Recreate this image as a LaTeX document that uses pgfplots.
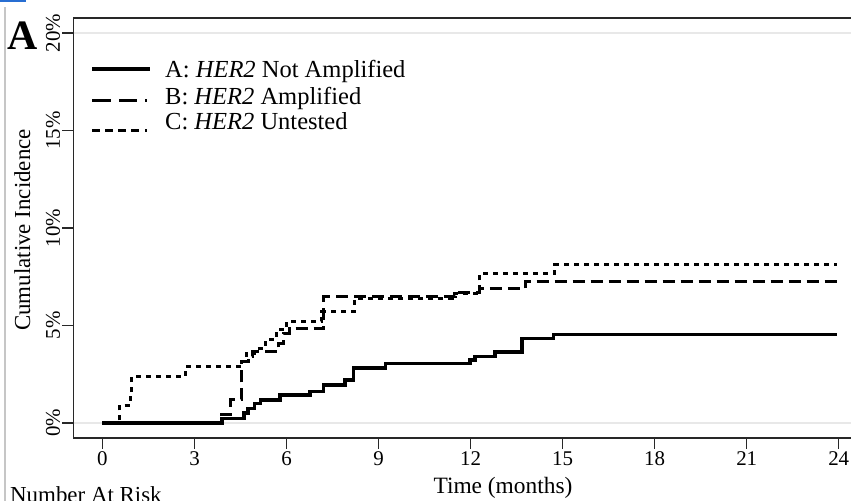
\documentclass[border=0pt]{standalone}
\usepackage{fontspec}
\setmainfont{Liberation Serif}
\usepackage{pgfplots}
\pgfplotsset{compat=1.18}
\definecolor{gridgray}{RGB}{232,232,232}
\definecolor{framegray}{RGB}{40,40,40}
\definecolor{winblue}{RGB}{40,110,210}

\begin{document}
\begin{tikzpicture}[x=1bp,y=1bp]
\begin{axis}[
  at={(73.3bp,63bp)}, anchor=south west,
  scale only axis, width=777.7bp, height=420bp,
  xmin=-0.95, xmax=24.4, ymin=-0.77, ymax=20.77,
  axis line style={draw=none},
  tick pos=left, tick align=outside,
  major tick length=11bp,
  tick style={framegray, line width=1.2bp},
  xtick={0,3,...,24},
  xticklabels={0,3,6,9,12,15,18,21,24},
  ytick={0,5,10,15,20},
  yticklabels={0\%,5\%,10\%,15\%,20\%},
  xticklabel style={font=\fontsize{21}{21}\selectfont, anchor=north, inner sep=2bp},
  yticklabel style={font=\fontsize{21}{21}\selectfont, rotate=90, anchor=south, inner sep=2bp},
  clip=false,
]
% light reference lines at 0% and 20%
\draw[gridgray, line width=2bp] (axis cs:-0.95,0) -- (axis cs:24.4,0);
\draw[gridgray, line width=2bp] (axis cs:-0.95,20) -- (axis cs:24.4,20);
% plot region border (right side falls outside the picture)
\draw[framegray, line width=1.5bp] (rel axis cs:1,1) -- (rel axis cs:0,1) -- (rel axis cs:0,0) -- (rel axis cs:1,0);

% C: HER2 untested
\addplot[const plot, black, line width=3bp, dash pattern=on 5bp off 5bp] coordinates {
  (0,0) (0.57,0.92) (0.9,1.44) (0.95,2.37) (2.7,2.89) (4.48,3.14) (4.7,3.57)
  (4.95,3.83) (5.3,4.26) (5.68,4.77) (6.0,5.19) (7.15,5.71) (8.2,6.39)
  (11.4,6.65) (12.3,7.66) (14.75,8.12) (23.95,8.12)
};
% B: HER2 amplified
\addplot[const plot, black, line width=3bp, dash pattern=on 12bp off 6bp] coordinates {
  (0,0) (3.89,0.41) (4.16,1.2) (4.54,3.14) (4.75,3.4) (4.9,3.66) (5.75,4.09)
  (5.9,4.6) (6.1,4.86) (7.2,6.48) (11.5,6.7) (12.3,6.9) (13.8,7.28) (23.95,7.28)
};
% A: HER2 not amplified
\addplot[const plot, black, line width=3.5bp] coordinates {
  (0,0) (3.89,0.22) (4.62,0.5) (4.75,0.75) (4.95,1.01) (5.15,1.18) (5.79,1.44)
  (6.77,1.61) (7.2,1.95) (7.91,2.21) (8.18,2.83) (9.22,3.06) (11.98,3.23)
  (12.15,3.4) (12.8,3.63) (13.68,4.34) (14.7,4.55) (23.95,4.55)
};
\end{axis}

% legend
\draw[black, line width=3.5bp] (92,432) -- (150,432);
\draw[black, line width=3bp, dash pattern=on 19bp off 8bp on 18bp off 8bp on 2bp off 20bp] (92,400) -- (149,400);
\draw[black, line width=3bp, dash pattern=on 8bp off 5bp on 8bp off 5bp on 8bp off 5bp on 8bp off 6bp on 2bp off 20bp] (92,370) -- (149,370);
\node[anchor=base west, inner sep=0pt, font=\fontsize{24.6}{24.6}\selectfont] at (165,423) {A: \textit{HER2} Not Amplified};
\node[anchor=base west, inner sep=0pt, font=\fontsize{24.6}{24.6}\selectfont] at (165,396) {B: \textit{HER2} Amplified};
\node[anchor=base west, inner sep=0pt, font=\fontsize{24.6}{24.6}\selectfont] at (165,371) {C: \textit{HER2} Untested};

% titles and labels
\node[anchor=base west, inner sep=0pt, font=\fontsize{42}{42}\selectfont\bfseries] at (7,451) {A};
\node[rotate=90, anchor=base, inner sep=0pt, font=\fontsize{23}{23}\selectfont] at (30,271) {Cumulative Incidence};
\node[anchor=base, inner sep=0pt, font=\fontsize{23.5}{23.5}\selectfont] at (503,7) {Time (months)};
\node[anchor=base west, inner sep=0pt, font=\fontsize{23}{23}\selectfont] at (10,-2) {Number At Risk};

% window edge
\draw[gray!45, line width=1.5bp] (5,0) -- (5,494);
\fill[winblue] (0,498.5) rectangle (26,501);

\pgfresetboundingbox
\useasboundingbox (0,0) rectangle (851,501);
\end{tikzpicture}
\end{document}
